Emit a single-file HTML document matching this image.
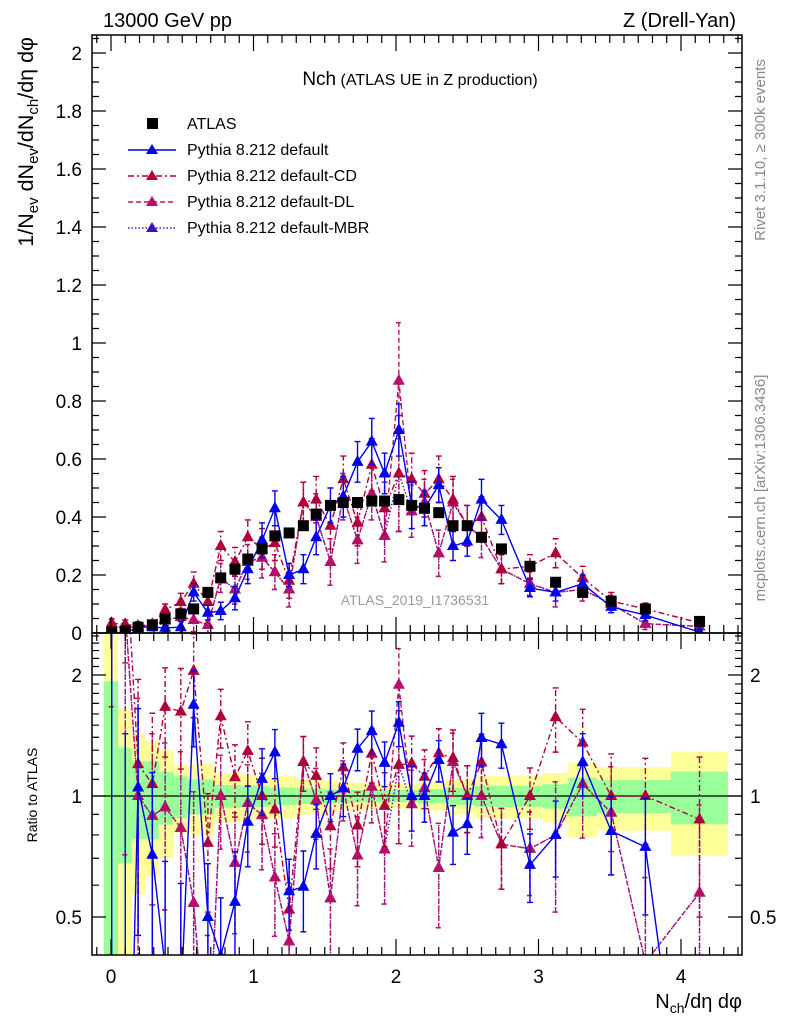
<!DOCTYPE html>
<html><head><meta charset="utf-8">
<style>
html,body{margin:0;padding:0;background:#fff;width:786px;height:1024px;overflow:hidden;}
svg{display:block;font-family:"Liberation Sans",sans-serif;}
</style></head>
<body>
<svg id="c" width="786" height="1024" viewBox="0 0 786 1024" xmlns="http://www.w3.org/2000/svg">
<text x="103" y="27" font-size="20">13000 GeV pp</text>
<text x="736" y="27" font-size="20" text-anchor="end">Z (Drell-Yan)</text>
<text x="420" y="85" text-anchor="middle"><tspan font-size="19">Nch</tspan><tspan font-size="16"> (ATLAS UE in Z production)</tspan></text>
<text transform="translate(33,37) rotate(-90)" font-size="21.5" text-anchor="end">1/N<tspan font-size="15" dy="5">ev</tspan><tspan dy="-5"> dN</tspan><tspan font-size="15" dy="5">ev</tspan><tspan dy="-5">/dN</tspan><tspan font-size="15" dy="5">ch</tspan><tspan dy="-5">/dη dφ</tspan></text>
<text transform="translate(37,795) rotate(-90)" font-size="14" text-anchor="middle">Ratio to ATLAS</text>
<text x="742" y="1008" font-size="20" text-anchor="end">N<tspan font-size="14" dy="5">ch</tspan><tspan dy="-5">/dη dφ</tspan></text>
<text transform="translate(765,150) rotate(-90)" font-size="15" fill="#888" text-anchor="middle">Rivet 3.1.10, ≥ 300k events</text>
<text transform="translate(765,488) rotate(-90)" font-size="15" fill="#888" text-anchor="middle">mcplots.cern.ch [arXiv:1306.3436]</text>
<text x="415" y="605" font-size="14" fill="#999" text-anchor="middle">ATLAS_2019_I1736531</text>
<g font-size="16">
<rect x="147" y="118" width="11" height="11" fill="#000"/>
<text x="187" y="129">ATLAS</text>
<line x1="128" y1="150" x2="176" y2="150" stroke="#0000ee" stroke-width="1.5"/>
<polygon points="152,144 146,154 158,154" fill="#0000ee"/>
<text x="187" y="155">Pythia 8.212 default</text>
<line x1="128" y1="176" x2="176" y2="176" stroke="#b0003a" stroke-width="1.5" stroke-dasharray="6,3,2,3"/>
<polygon points="152,170 146,180 158,180" fill="#b0003a"/>
<text x="187" y="181">Pythia 8.212 default-CD</text>
<line x1="128" y1="202" x2="176" y2="202" stroke="#b8106a" stroke-width="1.5" stroke-dasharray="5,3"/>
<polygon points="152,196 146,206 158,206" fill="#b8106a"/>
<text x="187" y="207">Pythia 8.212 default-DL</text>
<line x1="128" y1="228" x2="176" y2="228" stroke="#4010c0" stroke-width="1.5" stroke-dasharray="1.5,2"/>
<polygon points="152,222 146,232 158,232" fill="#4010c0"/>
<text x="187" y="233">Pythia 8.212 default-MBR</text>
</g>
</svg>
<script>
const xVals=[0.005,0.1,0.19,0.29,0.38,0.49,0.58,0.68,0.77,0.87,0.96,1.06,1.15,1.25,1.35,1.44,1.54,1.63,1.73,1.83,1.92,2.02,2.11,2.2,2.3,2.4,2.5,2.6,2.74,2.94,3.12,3.31,3.51,3.75,4.13];
const binEdges=[-0.05,0.05,0.145,0.24,0.335,0.435,0.535,0.63,0.725,0.82,0.915,1.01,1.105,1.2,1.3,1.395,1.49,1.585,1.68,1.78,1.875,1.97,2.065,2.155,2.25,2.35,2.45,2.55,2.67,2.84,3.03,3.21,3.41,3.63,3.93,4.33];
const atlas=[0.003,0.007,0.02,0.028,0.048,0.066,0.083,0.14,0.19,0.22,0.255,0.29,0.335,0.345,0.37,0.41,0.44,0.45,0.45,0.455,0.455,0.46,0.44,0.43,0.415,0.37,0.37,0.33,0.29,0.23,0.175,0.14,0.11,0.083,0.04];
const bandYellow=[1.6,0.65,0.43,0.37,0.3,0.19,0.2,0.2,0.14,0.14,0.13,0.12,0.12,0.12,0.1,0.1,0.09,0.08,0.08,0.07,0.07,0.07,0.07,0.08,0.08,0.1,0.1,0.12,0.12,0.12,0.14,0.21,0.18,0.18,0.29];
const bandGreen=[0.93,0.32,0.22,0.22,0.15,0.12,0.1,0.1,0.065,0.065,0.06,0.06,0.05,0.05,0.045,0.045,0.04,0.04,0.035,0.035,0.035,0.035,0.035,0.04,0.04,0.05,0.05,0.06,0.06,0.06,0.07,0.11,0.095,0.095,0.15];
const pyDefault=[0,0,0.021,0.02,0.018,0.02,0.14,0.07,0.076,0.12,0.22,0.32,0.43,0.2,0.22,0.33,0.44,0.47,0.59,0.66,0.55,0.70,0.44,0.43,0.51,0.30,0.315,0.46,0.39,0.155,0.14,0.17,0.09,0.062,0.003];
const pyCD=[0.034,0.03,0.024,0.03,0.08,0.107,0.17,0.107,0.30,0.245,0.33,0.29,0.31,0.18,0.45,0.46,0.37,0.53,0.38,0.58,0.43,0.55,0.53,0.48,0.53,0.46,0.37,0.40,0.22,0.23,0.275,0.19,0.11,0.083,0.035];
const pyDL=[0.02,0.02,0.02,0.025,0.045,0.055,0.045,0.028,0.19,0.15,0.245,0.26,0.21,0.15,0.45,0.40,0.245,0.47,0.32,0.48,0.335,0.87,0.42,0.45,0.275,0.45,0.37,0.33,0.22,0.17,0.14,0.15,0.10,0.032,0.023];
const pyMBR=[0.02,0.02,0.02,0.025,0.045,0.055,0.045,0.028,0.19,0.15,0.245,0.26,0.21,0.15,0.45,0.40,0.245,0.47,0.32,0.48,0.335,0.55,0.42,0.45,0.275,0.45,0.37,0.33,0.22,0.17,0.14,0.15,0.10,0.032,0.023];
const errBlue=[0.01,0.01,0.012,0.012,0.015,0.02,0.03,0.025,0.03,0.04,0.05,0.06,0.06,0.04,0.05,0.06,0.06,0.07,0.07,0.08,0.07,0.09,0.08,0.06,0.06,0.05,0.05,0.07,0.05,0.03,0.03,0.03,0.02,0.02,0.01];
const errRed=[0.015,0.015,0.015,0.015,0.02,0.03,0.04,0.035,0.05,0.05,0.06,0.07,0.06,0.06,0.07,0.08,0.08,0.08,0.08,0.09,0.09,0.2,0.09,0.08,0.08,0.08,0.07,0.07,0.05,0.04,0.05,0.04,0.03,0.02,0.015];
const mainTicks=["0","0.2","0.4","0.6","0.8","1","1.2","1.4","1.6","1.8","2"];
const xTicks=["0","1","2","3","4"];
const ratioTicks=["0.5","1","2"];

const NS="http://www.w3.org/2000/svg";
const svg=document.getElementById('c');
const L=92,R=742,T=35,B=633,RB=955;
const X=v=>111+142.5*v;
const Y=v=>633-290*v;
const RY=v=>796-402*Math.log10(v);
function mk(tag,at,parent){const e=document.createElementNS(NS,tag);for(const k in at)e.setAttribute(k,at[k]);(parent||svg).appendChild(e);return e;}

const defs=mk('defs',{});
const c1=mk('clipPath',{id:'cm'},defs);mk('rect',{x:L,y:T,width:R-L,height:B-T},c1);
const c2=mk('clipPath',{id:'cr'},defs);mk('rect',{x:L,y:B,width:R-L,height:RB-B},c2);
const gMain=mk('g',{'clip-path':'url(#cm)'});


const gRatio=mk('g',{'clip-path':'url(#cr)'});



for(let i=0;i<atlas.length;i++){
  const x1=X(binEdges[i]),x2=X(binEdges[i+1]);
  const yt=RY(1+bandYellow[i]),yb=RY(Math.max(0.01,1-bandYellow[i]));
  const r=mk('rect',{x:x1,y:yt,width:x2-x1,height:yb-yt,fill:'#ffff99'},gRatio);
  
  
}
for(let i=0;i<atlas.length;i++){
  const x1=X(binEdges[i]),x2=X(binEdges[i+1]);
  const yt=RY(1+bandGreen[i]),yb=RY(Math.max(0.01,1-bandGreen[i]));
  const r=mk('rect',{x:x1,y:yt,width:x2-x1,height:yb-yt,fill:'#99ff99'},gRatio);
  
  
}
const one=mk('line',{x1:L,x2:R,y1:RY(1),y2:RY(1),stroke:'#000','stroke-width':1.3},gRatio);



function series(vals,err,color,dash,name){
  const gm=mk('g',{},gMain);
  
  
  const gr=mk('g',{},gRatio);
  
  
  const pm=[],pr=[];
  for(let i=0;i<vals.length;i++){
    const x=X(xVals[i]);
    pm.push(x+','+Y(vals[i]));
    const rv=Math.max(0.05,Math.min(20,vals[i]/atlas[i]));
    pr.push(x+','+RY(rv));
  }
  const lm=mk('polyline',{points:pm.join(' '),fill:'none',stroke:color,'stroke-width':1.4,'stroke-dasharray':dash},gm);
  
  
  const lr=mk('polyline',{points:pr.join(' '),fill:'none',stroke:color,'stroke-width':1.4,'stroke-dasharray':dash},gr);
  
  
  for(let i=0;i<vals.length;i++){
    const x=X(xVals[i]);
    const y=Y(vals[i]),e=err[i];
    const eb=mk('path',{d:`M${x},${Y(vals[i]-e)}V${Y(vals[i]+e)}M${x-3},${Y(vals[i]-e)}h6M${x-3},${Y(vals[i]+e)}h6`,stroke:color,'stroke-width':1.4,fill:'none','stroke-dasharray':dash},gm);
    
    
    const t=mk('polygon',{points:`${x},${y-7} ${x-6},${y+4} ${x+6},${y+4}`,fill:color},gm);
    
    
    const rv=vals[i]/atlas[i],re=e/atlas[i];
    const ry=RY(Math.max(0.05,Math.min(20,rv)));
    const rlo=RY(Math.max(0.05,rv-re)),rhi=RY(Math.min(20,rv+re));
    const reb=mk('path',{d:`M${x},${rlo}V${rhi}M${x-3},${rlo}h6M${x-3},${rhi}h6`,stroke:color,'stroke-width':1.4,fill:'none','stroke-dasharray':dash},gr);
    
    
    const rt=mk('polygon',{points:`${x},${ry-7} ${x-6},${ry+4} ${x+6},${ry+4}`,fill:color},gr);
    
    
  }
}
series(pyMBR,errRed,'#4010c0','1.5,2','pythia-mbr');
series(pyDL,errRed,'#b8106a','5,3','pythia-dl');
series(pyCD,errRed,'#b0003a','6,3,2,3','pythia-cd');
series(pyDefault,errBlue,'#0000ee','none','pythia-default');

for(let i=0;i<atlas.length;i++){
  const x=X(xVals[i]),y=Y(atlas[i]);
  const s=mk('rect',{x:x-5.5,y:y-5.5,width:11,height:11,fill:'#000'},gMain);
  
  
}

const f1=mk('rect',{x:L,y:T,width:R-L,height:B-T,fill:'none',stroke:'#000','stroke-width':1.5});


const f2=mk('rect',{x:L,y:B,width:R-L,height:RB-B,fill:'none',stroke:'#000','stroke-width':1.5});



for(let k=0;k<=41;k++){
  const v=k*0.05,y=Y(v);if(y<T)break;
  const len=(k%4===0)?14:7;
  const t=mk('path',{d:`M${L},${y}h${len}M${R},${y}h${-len}`,stroke:'#000','stroke-width':1.2});
  
  
}
for(let i=0;i<mainTicks.length;i++){
  const lb=mk('text',{x:82,y:Y(parseFloat(mainTicks[i]))+7,'font-size':19,'text-anchor':'end'});
  lb.textContent=mainTicks[i];
  
  
}
for(let k=-1;k<=44;k++){
  const v=k*0.1,x=X(v);if(x<L||x>R)continue;
  const len=(k%10===0)?16:8;
  const t=mk('path',{d:`M${x},${B}v${-len}M${x},${T}v${len}M${x},${RB}v${-len}M${x},${B}v${len}`,stroke:'#000','stroke-width':1.2});
  
  
}
for(let i=0;i<xTicks.length;i++){
  const lb=mk('text',{x:X(parseFloat(xTicks[i])),y:983,'font-size':19,'text-anchor':'middle'});
  lb.textContent=xTicks[i];
  
  
}
const minorR=[0.5,0.6,0.7,0.8,0.9,1,1.1,1.2,1.3,1.4,1.5,1.6,1.7,1.8,1.9,2,2.1,2.2,2.3,2.4,2.5];
for(const v of minorR){
  const y=RY(v);if(y<B||y>RB)continue;
  const len=(v===0.5||v===1||v===2)?14:7;
  const t=mk('path',{d:`M${L},${y}h${len}M${R},${y}h${-len}`,stroke:'#000','stroke-width':1.2});
  
  
}
for(let i=0;i<ratioTicks.length;i++){
  const y=RY(parseFloat(ratioTicks[i]))+7;
  const lb=mk('text',{x:82,y:y,'font-size':19,'text-anchor':'end'});
  lb.textContent=ratioTicks[i];
  
  
  const lb2=mk('text',{x:750,y:y,'font-size':19});
  lb2.textContent=ratioTicks[i];
  
  
}
</script>
</body></html>
